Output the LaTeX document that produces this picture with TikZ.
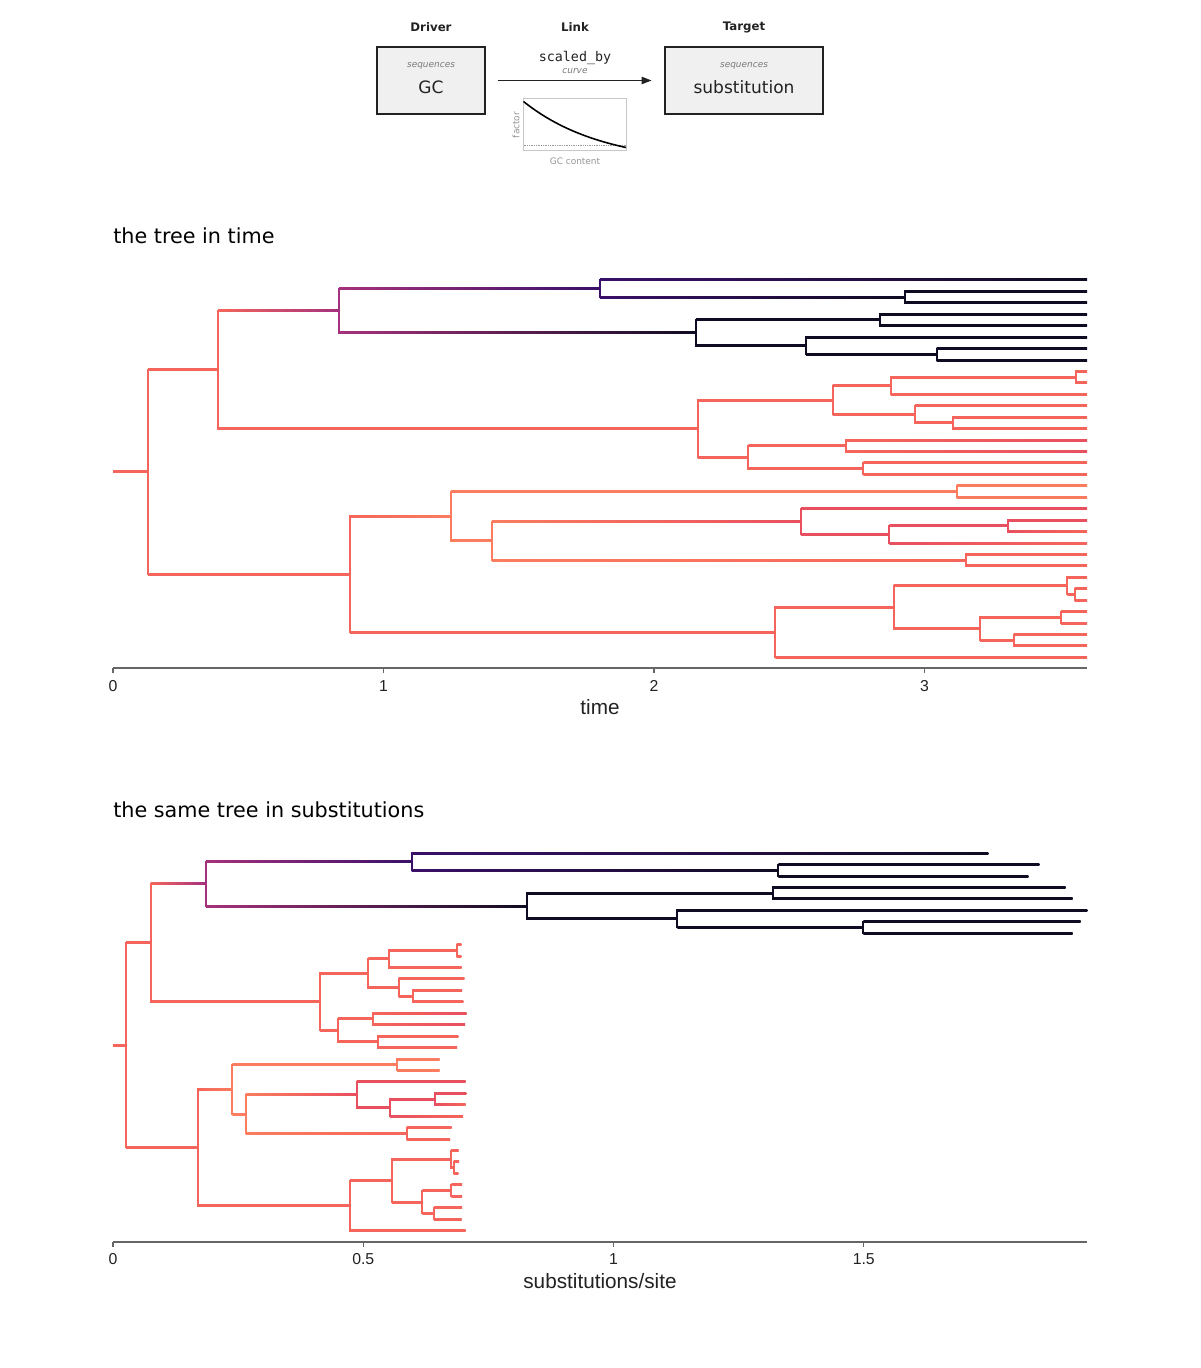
\documentclass[tikz,border=0pt]{standalone}
\usepackage{fontspec}
\setmainfont{DejaVu Sans}
\setmonofont{DejaVu Sans Mono}
\newfontfamily\axisfont{Liberation Sans}
\usetikzlibrary{arrows.meta,calc}

\definecolor{tcor}{HTML}{F5655B}
\definecolor{tora}{HTML}{FB7C5F}
\definecolor{tpink}{HTML}{E8505F}
\definecolor{tmag}{HTML}{A5317E}
\definecolor{tpur}{HTML}{3A1068}
\definecolor{tblk}{HTML}{0F0B22}
\definecolor{boxfill}{HTML}{F0F0F0}
\definecolor{inkgray}{HTML}{222222}
\definecolor{softgray}{HTML}{7A7A7A}
\definecolor{axisgray}{HTML}{666666}

% elbow branch: parent x, parent y, child x, child y, colour at parent, colour at child
\newcommand{\branchto}[6]{%
  \draw[branch,color=#5] (#1,#2) -- (#1,#4);
  \shade[left color=#5,right color=#6] ($(#1,#4)+(0,-0.57pt)$) rectangle ($(#3,#4)+(0,0.57pt)$);}

\begin{document}
\begin{tikzpicture}[x=0.02cm,y=-0.02cm,
    branch/.style={line width=1.14pt,line cap=rect},
    axis/.style={draw=axisgray,line width=0.6pt},
    head/.style={font=\fontsize{6.7}{8}\selectfont\bfseries,text=inkgray},
    tag/.style={font=\fontsize{5.1}{6}\selectfont\itshape,text=softgray},
    plotlab/.style={font=\fontsize{5.1}{6}\selectfont,text=softgray!80},
    varname/.style={font=\fontsize{9.7}{11}\selectfont,text=inkgray},
    linkname/.style={font=\fontsize{7.6}{9}\selectfont\ttfamily,text=inkgray},
    title/.style={anchor=west,inner sep=0pt,font=\fontsize{11.8}{14}\selectfont},
    tick/.style={font=\axisfont\fontsize{9}{11}\selectfont,text=inkgray},
    axtitle/.style={font=\axisfont\fontsize{11.8}{14}\selectfont,text=inkgray}]
    \tikzstyle{varbox}=[draw=inkgray,fill=boxfill,line width=0.6pt,minimum height=1.34cm]

  \fill[white] (0,0) rectangle (1200,1368);
  \useasboundingbox (0,0) rectangle (1200,1368);

  % header: driver -> link -> target
  \node[head] (driverhead) at (431,27) {Driver};
  \node[head] (linkhead) at (575,27) {Link};
  \node[head] (targethead) at (744,27) {Target};
  \node[varbox,minimum width=2.16cm] (gc) at (431,80.5) {};
  \node[varbox,minimum width=3.16cm] (subst) at (744,80.5) {};
  \node[tag] (gctag) at (431,66) {sequences};
  \node[varname] (gcname) at (431,87) {GC};
  \node[tag] (substtag) at (744,66) {sequences};
  \node[varname] (substname) at (744,87) {substitution};
  \draw[-{Triangle[length=2mm,width=1.5mm]},inkgray,line width=0.75pt,
    shorten <=0.24cm,shorten >=0.26cm] (gc) -- (subst);
  \node[linkname] (scaled) at (575,58) {scaled\_by};
  \node[tag] (curvetag) at (575,71) {curve};
  \node[draw=black!22,line width=0.5pt,minimum width=2.05cm,minimum height=1.05cm] (curvebox) at (574.7,124.5) {};
  \draw[black!40,line width=0.4pt,dash pattern=on 0.5pt off 0.5pt] (523.5,145.7) -- (626,145.7);
  \draw[black,line width=0.9pt] plot[domain=0:1,samples=40]
    ({523.5+102.5*\x},{101.5+46*(1-exp(-1.3*\x))/(1-exp(-1.3))});
  \node[plotlab,rotate=90] (factorlab) at (516,125) {factor};
  \node[plotlab] (gclab) at (575,161) {GC content};

  % titles
  \node[title] (timetitle) at (113,236) {the tree in time};
  \node[title] (substitle) at (113,810) {the same tree in substitutions};

  % both trees: time x / subst x for parent and child, tip-row y, colours
  \foreach \pt/\ct/\ps/\cs/\py/\cy/\ca/\cb in {
      113/148/113/126/16.789/16.789/tcor/tcor,
      148/218/126/150.7/16.789/7.844/tcor/tcor,
      148/350/126/198.3/16.789/25.734/tcor/tcor,
      218/339/150.7/206/7.844/2.6875/tcor/tmag,
      218/697.7/150.7/320/7.844/13/tcor/tcor,
      339/600/206/411.7/2.6875/0.75/tmag/tpur,
      339/696/206/526.7/2.6875/4.625/tmag/tblk,
      600/1087/411.7/988.3/0.75/0/tpur/tblk,
      600/905/411.7/778.3/0.75/1.5/tpur/tblk,
      905/1087/778.3/1039.3/1.5/1/tblk/tblk,
      905/1087/778.3/1028.3/1.5/2/tblk/tblk,
      696/880/526.7/773.3/4.625/3.5/tblk/tblk,
      696/806/526.7/677.3/4.625/5.75/tblk/tblk,
      880/1087/773.3/1065.7/3.5/3/tblk/tblk,
      880/1087/773.3/1072.7/3.5/4/tblk/tblk,
      806/1087/677.3/1087.3/5.75/5/tblk/tblk,
      806/936.5/677.3/863.3/5.75/6.5/tblk/tblk,
      936.5/1087/863.3/1080.7/6.5/6/tblk/tblk,
      936.5/1087/863.3/1072.7/6.5/7/tblk/tblk,
      697.7/832.7/320/368.3/13/10.5/tcor/tcor,
      697.7/748.3/320/338/13/15.5/tcor/tcor,
      832.7/890.7/368.3/388.7/10.5/9.25/tcor/tcor,
      832.7/915/368.3/398.7/10.5/11.75/tcor/tcor,
      890.7/1075.7/388.7/456.7/9.25/8.5/tcor/tcor,
      890.7/1087/388.7/461.7/9.25/10/tcor/tcor,
      1075.7/1087/456.7/461.3/8.5/8/tcor/tcor,
      1075.7/1087/456.7/461.3/8.5/9/tcor/tcor,
      915/1087/398.7/464.3/11.75/11/tcor/tcor,
      915/953.3/398.7/412.5/11.75/12.5/tcor/tcor,
      953.3/1087/412.5/462.2/12.5/12/tcor/tcor,
      953.3/1087/412.5/463.3/12.5/13/tcor/tcor,
      748.3/846/338/372.5/15.5/14.5/tcor/tcor,
      748.3/863.3/338/378.3/15.5/16.5/tcor/tcor,
      846/1087/372.5/466.5/14.5/14/tcor/tpink,
      846/1087/372.5/465.2/14.5/15/tcor/tpink,
      863.3/1087/378.3/458.3/16.5/16/tcor/tcor,
      863.3/1087/378.3/457.2/16.5/17/tcor/tcor,
      350/451/198.3/232.3/25.734/20.656/tcor/tora,
      350/775.3/198.3/350/25.734/30.8125/tcor/tcor,
      451/956.7/232.3/397/20.656/18.5/tora/tora,
      451/492/232.3/245.7/20.656/22.8125/tora/tora,
      956.7/1087/397/439.5/18.5/18/tora/tora,
      956.7/1087/397/439.5/18.5/19/tora/tora,
      492/801/245.7/356.7/22.8125/21.125/tora/tpink,
      492/965.7/245.7/406.7/22.8125/24.5/tora/tcor,
      801/1087/356.7/465.5/21.125/20/tpink/tpink,
      801/889.3/356.7/390/21.125/22.25/tpink/tpink,
      889.3/1008/390/435/22.25/21.5/tpink/tpink,
      889.3/1087/390/463/22.25/23/tpink/tcor,
      1008/1087/435/466.3/21.5/21/tpink/tpink,
      1008/1087/435/465.5/21.5/22/tpink/tcor,
      965.7/1087/406.7/451.5/24.5/24/tcor/tcor,
      965.7/1087/406.7/450.2/24.5/25/tcor/tcor,
      775.3/893.7/350/392/30.8125/28.625/tcor/tcor,
      775.3/1087/350/465.7/30.8125/33/tcor/tcor,
      893.7/1067.3/392/451/28.625/26.75/tcor/tcor,
      893.7/980/392/422.3/28.625/30.5/tcor/tcor,
      1067.3/1087/451/458.5/26.75/26/tcor/tcor,
      1067.3/1074.7/451/453.5/26.75/27.5/tcor/tcor,
      1074.7/1087/453.5/459/27.5/27/tcor/tcor,
      1074.7/1087/453.5/458.3/27.5/28/tcor/tcor,
      980/1061/422.3/451.3/30.5/29.5/tcor/tcor,
      980/1013.7/422.3/434.2/30.5/31.5/tcor/tcor,
      1061/1087/451.3/462/29.5/29/tcor/tcor,
      1061/1087/451.3/462/29.5/30/tcor/tcor,
      1013.7/1087/434.2/462/31.5/31/tcor/tcor,
      1013.7/1087/434.2/461.5/31.5/32/tcor/tcor}{
    \begin{scope}[yshift=-5.6cm,y=-0.2288cm]
      \branchto{\pt}{\py}{\ct}{\cy}{\ca}{\cb}
    \end{scope}
    \begin{scope}[yshift=-17.066cm,y=-0.2288cm]
      \branchto{\ps}{\py}{\cs}{\cy}{\ca}{\cb}
    \end{scope}
  }

  % time axis
  \draw[axis] (113,668) -- (1087,668);
  \foreach \t in {0,1,2,3}{
    \draw[axis] ({113+270.5*\t},668) -- ({113+270.5*\t},673);
    \node[tick] (time\t) at ({113+270.5*\t},686) {\t};
  }
  \node[axtitle] (timelab) at (600,707) {time};

  % substitution axis
  \draw[axis] (113,1242) -- (1087,1242);
  \foreach \s [count=\k] in {0,0.5,1,1.5}{
    \draw[axis] ({113+500.5*\s},1242) -- ({113+500.5*\s},1247);
    \node[tick] (subs\k) at ({113+500.5*\s},1259.5) {\s};
  }
  \node[axtitle] (subslab) at (600,1281) {substitutions/site};
\end{tikzpicture}
\end{document}
